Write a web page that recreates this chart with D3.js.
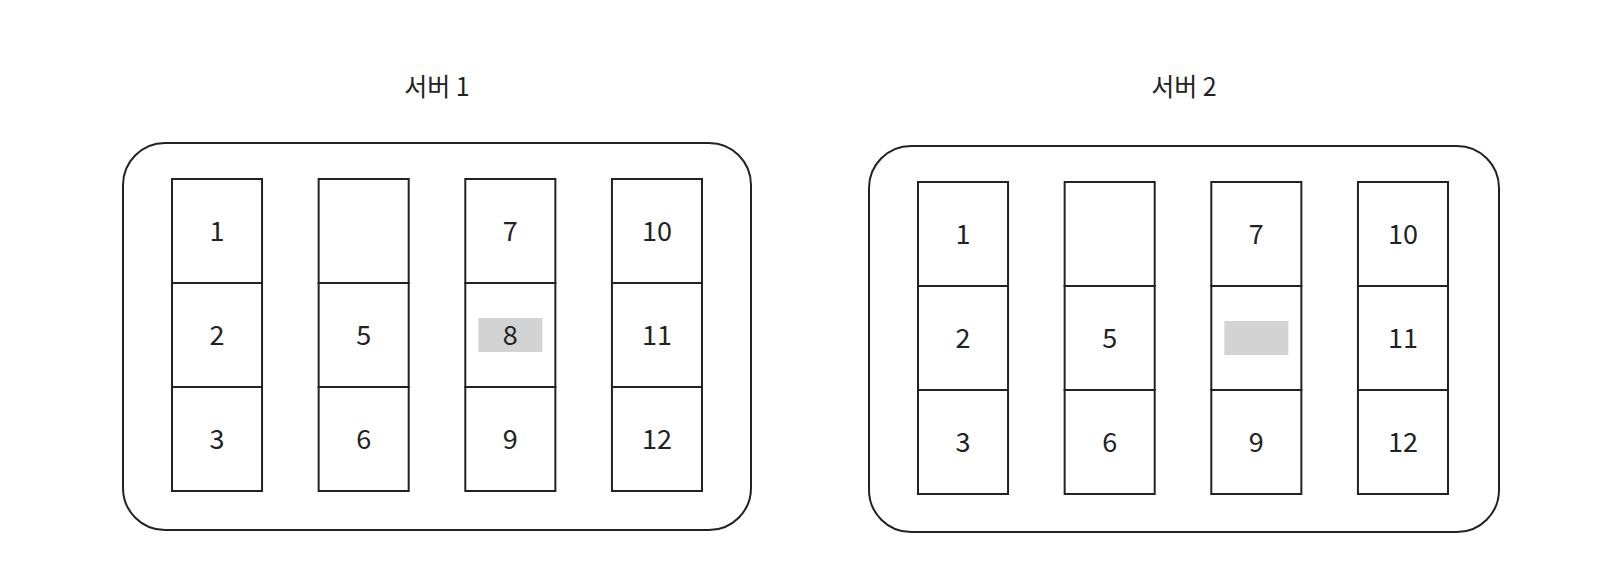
<!DOCTYPE html>
<html><head><meta charset="utf-8">
<script src="https://cdn.jsdelivr.net/npm/d3@7"></script>
<style>body{margin:0;background:#fff}text{font-family:"Noto Sans CJK KR","Noto Sans",sans-serif;fill:#222}</style>
</head><body>
<svg id="c" width="1622" height="580"></svg>
<script>
const servers = ["서버 1", "서버 2"];
const columns = ["c1", "c2", "c3", "c4"];
const rowKeys = ["r1", "r2", "r3"];
// cell labels per server, column-major; "" = empty cell
const labels1 = [["1","2","3"], ["","5","6"], ["7","8","9"], ["10","11","12"]];
const labels2 = [["1","2","3"], ["","5","6"], ["7","","9"], ["10","11","12"]];
// highlighted (grey) cell: [column index, row index]
const highlight = [2, 1];

const svg = d3.select("#c");
const boxes = [
  { name: servers[0], labels: labels1, x0: 123, x1: 751, y0: 143, y1: 530 },
  { name: servers[1], labels: labels2, x0: 869, x1: 1499, y0: 146, y1: 532 }
];

boxes.forEach(b => {
  const g = svg.append("g");
  g.append("rect").attr("x", b.x0).attr("y", b.y0)
    .attr("width", b.x1 - b.x0).attr("height", b.y1 - b.y0)
    .attr("rx", 42).attr("fill", "none").attr("stroke", "#222").attr("stroke-width", 2);
  g.append("text").attr("x", (b.x0 + b.x1) / 2).attr("y", 96)
    .attr("text-anchor", "middle").attr("font-size", 25).text(b.name);

  const x = d3.scaleBand().domain(columns).range([b.x0 + 49, b.x0 + 579]).paddingInner(0.386).paddingOuter(0);
  const y = d3.scaleBand().domain(rowKeys).range([b.y0 + 36, b.y0 + 348]);

  columns.forEach((c, ci) => {
    rowKeys.forEach((r, ri) => {
      g.append("rect").attr("x", x(c)).attr("y", y(r))
        .attr("width", x.bandwidth()).attr("height", y.bandwidth())
        .attr("fill", "none").attr("stroke", "#222").attr("stroke-width", 2);
      if (ci === highlight[0] && ri === highlight[1]) {
        g.append("rect").attr("x", x(c) + 13).attr("y", y(r) + y.bandwidth() / 2 - 17)
          .attr("width", x.bandwidth() - 26).attr("height", 34).attr("fill", "#d3d3d3");
      }
      const t = b.labels[ci][ri];
      if (t) g.append("text").attr("x", x(c) + x.bandwidth() / 2).attr("y", y(r) + y.bandwidth() / 2 + 10)
        .attr("text-anchor", "middle").attr("font-size", 27).text(t);
    });
  });
});
</script>
</body></html>
